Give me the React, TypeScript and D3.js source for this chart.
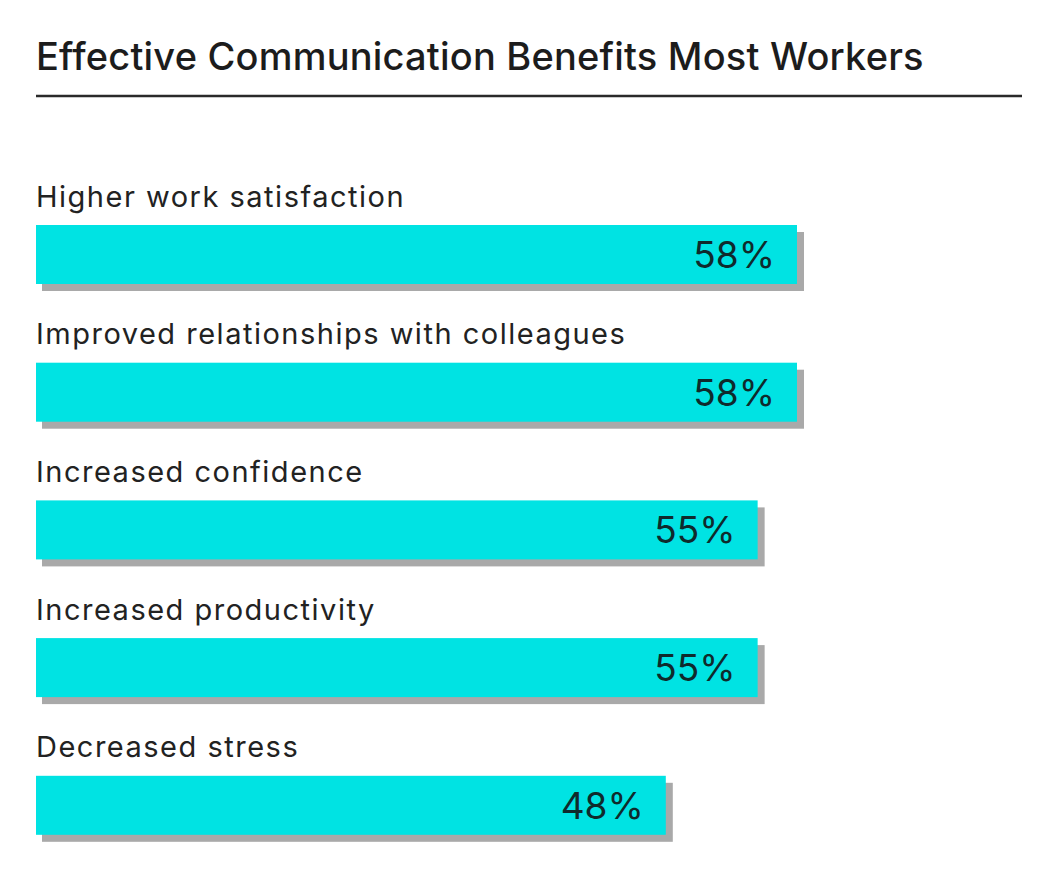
import React from "react";
import * as d3 from "d3";

const title = "Effective Communication Benefits Most Workers";
const categories = [
  "Higher work satisfaction",
  "Improved relationships with colleagues",
  "Increased confidence",
  "Increased productivity",
  "Decreased stress",
];
const values = [58, 58, 55, 55, 48];

const W = 1057;
const H = 888;

export default function App() {
  const x = d3.scaleLinear().domain([0, 58]).range([36, 797]);
  const y = d3
    .scaleBand<string>()
    .domain(categories)
    .range([225, 225 + 5 * 137.7])
    .paddingInner(0)
    .paddingOuter(0);
  const barH = 59;
  const shadow = 7;
  const font = "Inter, 'Noto Sans', sans-serif";

  return (
    <svg
      width={W}
      height={H}
      style={{ position: "absolute", left: 0, top: 0, background: "#fff" }}
    >
      <text
        x={36}
        y={70}
        fontFamily={font}
        fontSize={38}
        fontWeight={500}
        fill="#1c1c1c"
        letterSpacing={0.2}
      >
        {title}
      </text>
      <line x1={36} x2={1022} y1={96} y2={96} stroke="#2a2a2a" strokeWidth={2.5} />
      {categories.map((c, i) => {
        const top = y(c)!;
        const x0 = x(0);
        const x1 = x(values[i]);
        return (
          <g key={c}>
            <text
              x={36}
              y={top - 18.5}
              fontFamily={font}
              fontSize={29}
              letterSpacing={1.5}
              fill="#222"
            >
              {c}
            </text>
            <rect
              x={x0 + shadow - 1}
              y={top + shadow}
              width={x1 - x0 + 1}
              height={barH}
              fill="#a9a9a9"
            />
            <rect x={x0} y={top} width={x1 - x0} height={barH} fill="#00e3e3" />
            <text
              x={x1 - 22}
              y={top + barH / 2}
              dy="0.36em"
              textAnchor="end"
              fontFamily={font}
              fontSize={37}
              fill="#0f2a2c"
            >
              {values[i]}%
            </text>
          </g>
        );
      })}
    </svg>
  );
}
